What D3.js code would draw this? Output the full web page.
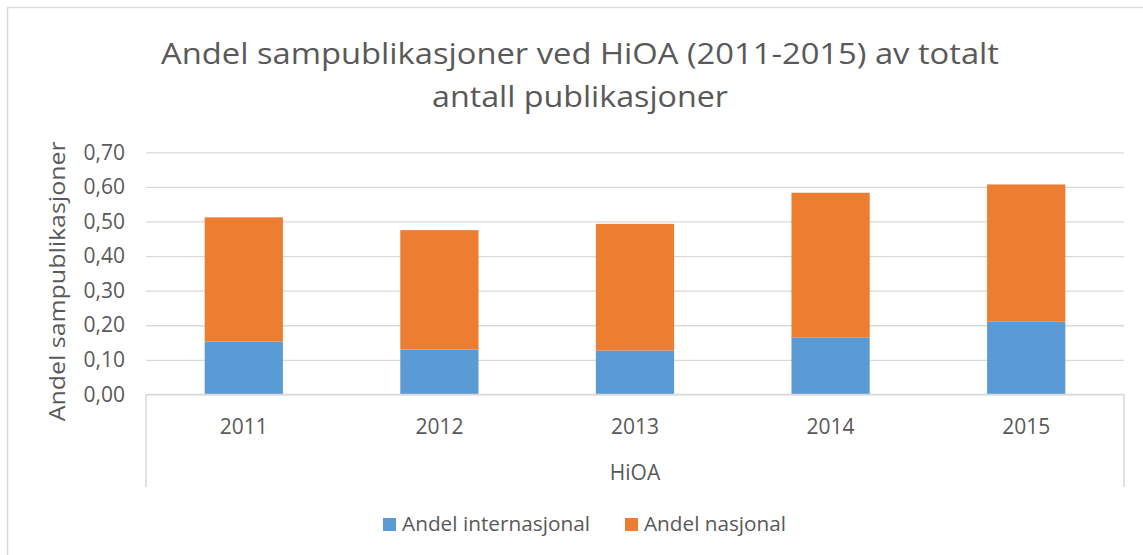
<!DOCTYPE html>
<html>
<head>
<meta charset="utf-8">
<script src="https://cdn.jsdelivr.net/npm/d3@7"></script>
<style>
  body { margin: 0; background: #fff; }
  text { font-family: "Open Sans", sans-serif; fill: #595959; }
</style>
</head>
<body>
<script>
const years = ["2011", "2012", "2013", "2014", "2015"];
const internasjonal = [0.153, 0.130, 0.127, 0.165, 0.210];
const nasjonal = [0.359, 0.345, 0.366, 0.418, 0.397];
const seriesNames = ["Andel internasjonal", "Andel nasjonal"];
const seriesColors = ["#5B9BD5", "#ED7D31"];
const yTicks = [0, 0.1, 0.2, 0.3, 0.4, 0.5, 0.6, 0.7];

const w = 1143;
const h = 555;
const plotLeft = 146, plotRight = 1124, plotTop = 152.3, plotBottom = 394.4;

const svg = d3.select("body").append("svg").attr("width", w).attr("height", h);

// chart border
svg.append("rect")
  .attr("x", 7.5).attr("y", 7.5)
  .attr("width", w + 20).attr("height", h + 20)
  .attr("fill", "#fff")
  .attr("stroke", "#D9D9D9")
  .attr("stroke-width", 1.5);

const rows = years.map((y, i) => ({ year: y, a: internasjonal[i], b: nasjonal[i] }));
const stacked = d3.stack().keys(["a", "b"])(rows);

const xScale = d3.scaleBand()
  .domain(years)
  .range([plotLeft, plotRight])
  .paddingInner(0.6)
  .paddingOuter(0.3);

const yScale = d3.scaleLinear()
  .domain([0, 0.7])
  .range([plotBottom, plotTop]);

// gridlines + y labels
const yAxis = d3.axisLeft(yScale)
  .tickValues(yTicks)
  .tickSize(-(plotRight - plotLeft))
  .tickPadding(20)
  .tickFormat((d) => d3.format(".2f")(d).replace(".", ","));

const gy = svg.append("g")
  .attr("transform", `translate(${plotLeft}, 0)`)
  .call(yAxis);
gy.select(".domain").remove();
gy.selectAll(".tick line").attr("stroke", "#D9D9D9").attr("stroke-width", 1.3);
gy.selectAll(".tick text")
  .attr("font-size", 21)
  .attr("x", -21)
  .attr("fill", "#595959")
  .style("font-family", "'Open Sans', sans-serif");

// bars
svg.append("g")
  .selectAll("g")
  .data(stacked)
  .enter()
  .append("g")
  .attr("fill", (d, i) => seriesColors[i])
  .selectAll("rect")
  .data((d) => d)
  .enter()
  .append("rect")
  .attr("x", (d) => xScale(d.data.year))
  .attr("y", (d) => yScale(d[1]))
  .attr("width", xScale.bandwidth())
  .attr("height", (d) => yScale(d[0]) - yScale(d[1]));

// category axis box
const axisBottom = 487;
const gx = svg.append("g");
gx.append("line")
  .attr("x1", plotLeft).attr("x2", plotRight)
  .attr("y1", plotBottom).attr("y2", plotBottom)
  .attr("stroke", "#D9D9D9").attr("stroke-width", 1.5);
[plotLeft, plotRight].forEach((x) => {
  gx.append("line")
    .attr("x1", x).attr("x2", x)
    .attr("y1", plotBottom).attr("y2", axisBottom)
    .attr("stroke", "#D9D9D9").attr("stroke-width", 1.5);
});
gx.selectAll(".yr")
  .data(years)
  .enter()
  .append("text")
  .attr("class", "yr")
  .attr("x", (d) => xScale(d) + xScale.bandwidth() / 2)
  .attr("y", 434)
  .attr("text-anchor", "middle")
  .attr("font-size", 21)
  .text((d) => d);
gx.append("text")
  .attr("x", (plotLeft + plotRight) / 2)
  .attr("y", 480)
  .attr("text-anchor", "middle")
  .attr("font-size", 21)
  .text("HiOA");

// y axis title
svg.append("text")
  .attr("transform", "rotate(-90)")
  .attr("x", -(plotTop + plotBottom) / 2 - 8)
  .attr("y", 65)
  .attr("text-anchor", "middle")
  .attr("font-size", 22)
  .attr("textLength", 280)
  .attr("lengthAdjust", "spacingAndGlyphs")
  .text("Andel sampublikasjoner");

// title
svg.append("text")
  .attr("x", 580)
  .attr("y", 64)
  .attr("text-anchor", "middle")
  .attr("font-size", 29)
  .attr("textLength", 838)
  .attr("lengthAdjust", "spacingAndGlyphs")
  .text("Andel sampublikasjoner ved HiOA (2011-2015) av totalt");
svg.append("text")
  .attr("x", 580)
  .attr("y", 107)
  .attr("text-anchor", "middle")
  .attr("font-size", 29)
  .attr("textLength", 296)
  .attr("lengthAdjust", "spacingAndGlyphs")
  .text("antall publikasjoner");

// legend
const legendX = [383, 625];
const legendLen = [188, 142];
const lg = svg.append("g");
seriesNames.forEach((name, i) => {
  lg.append("rect")
    .attr("x", legendX[i]).attr("y", 518)
    .attr("width", 13).attr("height", 13)
    .attr("fill", seriesColors[i]);
  lg.append("text")
    .attr("x", legendX[i] + 19)
    .attr("y", 531)
    .attr("font-size", 20)
    .attr("textLength", legendLen[i])
    .attr("lengthAdjust", "spacingAndGlyphs")
    .text(name);
});
</script>
</body>
</html>
